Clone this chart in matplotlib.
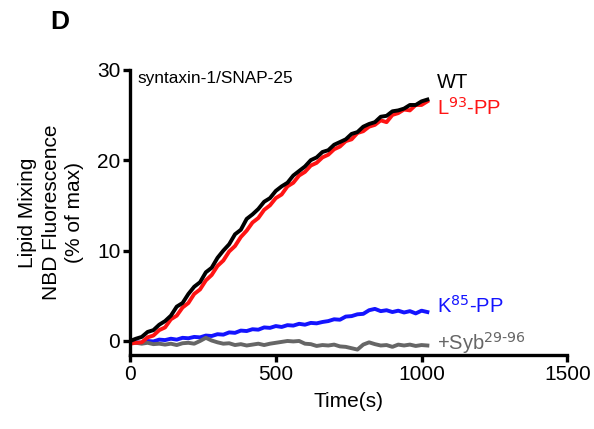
import numpy as np
import matplotlib
matplotlib.use("Agg")
import matplotlib.pyplot as plt

plt.rcParams['font.family'] = ['Liberation Sans', 'DejaVu Sans']

# time points (s), one reading every 20 s
time_s = np.arange(0, 1021, 20)

# lipid mixing, NBD fluorescence (% of max)
wt = [0.0, 0.25, 0.45, 1.0, 1.2, 1.8, 2.2, 2.8, 3.8, 4.2,
      5.2, 6.0, 6.5, 7.6, 8.1, 9.2, 10.0, 10.7, 11.8, 12.3,
      13.5, 14.0, 14.6, 15.4, 15.8, 16.6, 17.1, 17.5, 18.3, 18.8,
      19.3, 20.0, 20.3, 20.9, 21.1, 21.7, 22.0, 22.3, 22.9, 23.1,
      23.7, 24.0, 24.2, 24.8, 24.9, 25.4, 25.5, 25.7, 26.1, 26.1,
      26.5, 26.7]
l93_pp = [-0.3, -0.2, -0.15, 0.4, 0.6, 1.2, 1.5, 2.4, 2.8, 3.7,
          4.2, 5.2, 5.7, 6.7, 7.3, 8.3, 8.9, 9.9, 10.5, 11.5,
          12.2, 13.1, 13.6, 14.5, 15.0, 15.8, 16.2, 17.1, 17.5, 18.3,
          18.7, 19.4, 19.7, 20.3, 20.6, 21.2, 21.5, 22.1, 22.3, 23.0,
          23.2, 23.7, 23.9, 24.4, 24.2, 25.0, 25.2, 25.6, 25.5, 26.1,
          26.1, 26.5]
k85_pp = [0.0, -0.15, -0.2, 0.0, -0.05, 0.15, 0.1, 0.25, 0.15, 0.35,
          0.3, 0.45, 0.4, 0.6, 0.55, 0.75, 0.7, 0.95, 0.9, 1.15,
          1.1, 1.3, 1.25, 1.5, 1.45, 1.65, 1.55, 1.75, 1.7, 1.9,
          1.8, 2.0, 1.95, 2.1, 2.2, 2.4, 2.35, 2.7, 2.75, 2.95,
          3.0, 3.4, 3.55, 3.3, 3.4, 3.2, 3.35, 3.15, 3.3, 3.05,
          3.35, 3.2]
syb = [0.0, -0.2, -0.3, -0.2, -0.35, -0.3, -0.4, -0.3, -0.45, -0.25,
       -0.2, -0.3, 0.0, 0.35, 0.05, -0.15, -0.3, -0.25, -0.45, -0.35,
       -0.5, -0.4, -0.3, -0.45, -0.3, -0.2, -0.1, 0.0, -0.05, 0.0,
       -0.3, -0.35, -0.55, -0.45, -0.5, -0.4, -0.6, -0.65, -0.8, -0.95,
       -0.4, -0.15, -0.35, -0.5, -0.45, -0.65, -0.4, -0.5, -0.4, -0.55,
       -0.45, -0.5]

red = '#ff1414'
blue = '#1414ff'
grey = '#666666'

fig = plt.figure(figsize=(5.94, 4.29), dpi=100)
ax = fig.add_axes([0.219, 0.1725, 0.736, 0.665])

ax.plot(time_s, k85_pp, color=blue, lw=2.8)
ax.plot(time_s, syb, color=grey, lw=2.8)
ax.plot(time_s, l93_pp, color=red, lw=2.8)
ax.plot(time_s, wt, color='black', lw=2.8)

ax.set_xlim(0, 1500)
ax.set_ylim(-1.55, 30)
ax.set_xticks([0, 500, 1000, 1500])
ax.set_yticks([0, 10, 20, 30])
ax.spines['top'].set_visible(False)
ax.spines['right'].set_visible(False)
for s in ['left', 'bottom']:
    ax.spines[s].set_linewidth(2.4)
ax.tick_params(width=2.4, length=5, labelsize=15, pad=2)

ax.set_xlabel('Time(s)', fontsize=15, labelpad=6)
ax.set_ylabel('Lipid Mixing\nNBD Fluorescence\n(% of max)', fontsize=15,
              labelpad=9, linespacing=1.3)

ax.text(25, 29.0, 'syntaxin-1/SNAP-25', fontsize=12.4, va='center')
ax.text(1052, 28.6, 'WT', fontsize=14.5, va='center', color='black')
ax.text(1052, 25.8, r'L$^{93}$-PP', fontsize=14.5, va='center', color=red)
ax.text(1052, 3.9, r'K$^{85}$-PP', fontsize=14.5, va='center', color=blue)
ax.text(1052, -0.2, r'+Syb$^{29\text{-}96}$', fontsize=14.5, va='center', color=grey)

fig.text(0.084, 0.948, 'D', fontsize=19, fontweight='bold', va='center')

fig.savefig('out.png', dpi=100)
